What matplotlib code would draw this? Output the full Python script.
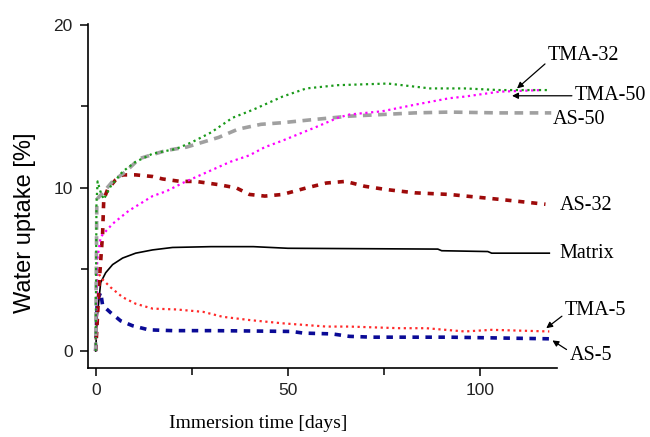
import matplotlib
matplotlib.use("Agg")
import matplotlib.pyplot as plt
from matplotlib.ticker import MultipleLocator

# ---- data ----
matrix_x = [0, 0.4, 1.3, 2.6, 4.4, 7, 10.4, 14.8, 20, 30, 41, 50, 89, 90, 102, 103, 118]
matrix_y = [0, 2.1, 4.2, 4.8, 5.3, 5.7, 6.0, 6.2, 6.35, 6.4, 6.4, 6.3, 6.25, 6.15, 6.1, 6.0, 6.0]

as5_x = [0, 0.4, 1.3, 1.8, 3.9, 6.5, 9.6, 13.8, 20, 30, 40, 51, 54, 61.5, 66, 72, 92, 105, 118]
as5_y = [0, 3.1, 3.6, 2.8, 2.35, 1.85, 1.55, 1.3, 1.25, 1.25, 1.23, 1.2, 1.1, 1.05, 0.9, 0.85, 0.85, 0.8, 0.75]

tma5_x = [0, 0.4, 1.3, 3.9, 7, 10.4, 14.8, 21, 28, 33, 40, 48.6, 60, 66, 79, 86, 96, 103, 118]
tma5_y = [0, 5.0, 4.5, 3.9, 3.3, 2.9, 2.6, 2.55, 2.4, 2.1, 1.9, 1.7, 1.5, 1.5, 1.4, 1.4, 1.2, 1.3, 1.2]

as32_x = [0, 1, 1.8, 2.1, 3.1, 5.2, 7, 10.4, 14.8, 17.4, 22, 26, 32, 36.6, 40, 44, 48.6,
          54.8, 60, 65, 70, 75.6, 83, 92, 105, 117]
as32_y = [0, 4.5, 7.2, 9.3, 9.9, 10.5, 10.8, 10.8, 10.7, 10.55, 10.4, 10.4, 10.2, 10.0, 9.6,
          9.5, 9.6, 10.0, 10.3, 10.4, 10.1, 9.9, 9.7, 9.6, 9.3, 9.0]

as50_x = [0, 0.3, 2.6, 4.4, 7.8, 11.4, 18.4, 23.6, 27.8, 32, 37, 43, 48.6, 57, 66, 74.5, 83, 92, 105, 118.5]
as50_y = [0, 9.3, 9.9, 10.4, 11.0, 11.8, 12.3, 12.5, 12.8, 13.1, 13.6, 13.9, 14.0, 14.2, 14.4,
          14.5, 14.6, 14.65, 14.6, 14.6]

tma32_x = [0, 0.2, 0.5, 1.2, 2.1, 3.9, 7, 10.4, 14.8, 21, 25, 30, 35.6, 41, 48.6, 54.8, 63,
           76, 87, 96, 105, 118]
tma32_y = [0, 9.0, 10.4, 9.8, 9.3, 10.1, 11.0, 11.6, 12.1, 12.4, 12.8, 13.4, 14.3, 14.8, 15.6,
           16.1, 16.3, 16.4, 16.1, 16.1, 16.0, 16.0]

tma50_x = [0, 0.4, 1.3, 4.4, 8.6, 14.8, 18.4, 22.6, 35, 40, 44, 48.6, 57, 63, 66, 74.5, 83,
           92, 96, 105, 116]
tma50_y = [0, 5.6, 7.0, 7.8, 8.6, 9.5, 9.8, 10.3, 11.6, 12.0, 12.5, 12.9, 13.7, 14.3, 14.5,
           14.7, 15.1, 15.5, 15.6, 15.9, 16.0]

x_ticks = [0, 50, 100]
y_ticks = [0, 10, 20]

serif = "Liberation Serif"
sans = "Liberation Sans"

fig = plt.figure(figsize=(6.5, 4.37), dpi=100)
ax = fig.add_axes([88 / 650, 1 - 368 / 437, (557 - 88) / 650, (368 - 24) / 437])

ax.plot(matrix_x, matrix_y, color="black", lw=1.2, ls="-")
ax.plot(as5_x, as5_y, color="#0a0a96", lw=2.6, ls=(0, (1.8, 1.8)))
ax.plot(tma5_x, tma5_y, color="#ff2a2a", lw=1.6, ls=(0, (1, 1.6)))
ax.plot(as32_x, as32_y, color="#9e0a0a", lw=2.6, ls=(0, (1.7, 1.9)))
ax.plot(as50_x, as50_y, color="#a0a0a0", lw=2.6, ls=(0, (2.4, 1.8)))
ax.plot(tma50_x, tma50_y, color="#ff00ff", lw=1.6, ls=(0, (1, 1.6)))
ax.plot(tma32_x, tma32_y, color="#1a9a1a", lw=1.6, ls=(0, (1, 1.6)))

ax.set_xlim(-2, 120)
ax.set_ylim(-1.04, 20.05)
for s in ["top", "right"]:
    ax.spines[s].set_visible(False)
for s in ["left", "bottom"]:
    ax.spines[s].set_linewidth(1.2)

ax.set_xticks(x_ticks)
ax.set_yticks(y_ticks)
ax.xaxis.set_minor_locator(MultipleLocator(25))
ax.yaxis.set_minor_locator(MultipleLocator(5))
ax.tick_params(which="both", direction="out", width=1.1)
ax.tick_params(which="major", length=6, pad=5)
ax.tick_params(which="minor", length=5)
for lab in ax.get_xticklabels() + ax.get_yticklabels():
    lab.set_fontfamily(sans)
    lab.set_fontsize(12.5)
    lab.set_color("#222222")

fig.text(258 / 650, 1 - 424 / 437, "Immersion time [days]", family=serif, fontsize=14,
         ha="center", va="center")
fig.text(25 / 650, 1 - 223 / 437, "Water uptake [%]", family=sans, fontsize=17,
         ha="center", va="center", rotation=90)

fs = 14.5
arrow = dict(arrowstyle="-|>", color="black", lw=0.9, mutation_scale=9, shrinkA=0, shrinkB=0)
ax.annotate("TMA-32", xy=(109.6, 16.1), xytext=(117.6, 18.1), family=serif, fontsize=fs,
            ha="left", va="center", annotation_clip=False,
            arrowprops=dict(arrow, relpos=(0, 0.2)))
ax.annotate("TMA-50", xy=(108.3, 15.65), xytext=(124.6, 15.65), family=serif, fontsize=fs,
            ha="left", va="center", annotation_clip=False,
            arrowprops=dict(arrow, relpos=(0, 0.5)))
ax.text(118.9, 14.2, "AS-50", family=serif, fontsize=fs, ha="left", va="center", clip_on=False)
ax.text(120.6, 8.95, "AS-32", family=serif, fontsize=fs, ha="left", va="center", clip_on=False)
ax.text(120.6, 6.0, "Matrix", family=serif, fontsize=fs, ha="left", va="center", clip_on=False)
ax.annotate("TMA-5", xy=(117.2, 1.4), xytext=(122.0, 2.5), family=serif, fontsize=fs,
            ha="left", va="center", annotation_clip=False,
            arrowprops=dict(arrow, relpos=(0, 0.3)))
ax.annotate("AS-5", xy=(118.8, 0.65), xytext=(123.2, -0.25), family=serif, fontsize=fs,
            ha="left", va="center", annotation_clip=False,
            arrowprops=dict(arrow, relpos=(0, 0.7)))

fig.savefig("out.png", dpi=100)
